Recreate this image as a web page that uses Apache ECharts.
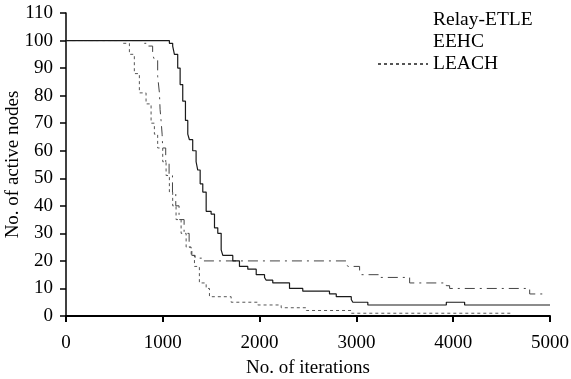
<!DOCTYPE html>
<html>
<head>
<meta charset="utf-8">
<script src="https://cdn.jsdelivr.net/npm/echarts@6/dist/echarts.min.js"></script>
<style>
  html, body { margin: 0; padding: 0; background: #fff; }
  #chart { width: 571px; height: 379px; }
</style>
</head>
<body>
<div id="chart"></div>
<script>
// Relay-ETLE (solid)
const relayIter = [0, 1068, 1102, 1120, 1154, 1179, 1206, 1234, 1258, 1275, 1309, 1344, 1361, 1386, 1413, 1448, 1499, 1534, 1568, 1603, 1620, 1723, 1792, 1878, 1965, 2051, 2068, 2136, 2309, 2446, 2722, 2792, 2947, 2963, 3118, 3929, 4118, 5000];
const relayNodes = [100, 99, 98, 95, 90, 84, 78, 71, 66, 64, 60, 56, 53, 48, 45, 38, 37, 32, 30, 24, 22, 20, 18, 17, 15, 14, 13, 12, 10, 9, 8, 7, 6, 5, 4, 5, 4, 4];

// EEHC (dash-dot)
const eehcIter = [0, 810, 844, 895, 913, 947, 965, 972, 982, 993, 999, 1030, 1065, 1100, 1134, 1168, 1220, 1272, 1300, 1334, 1420, 2895, 2912, 3033, 3050, 3240, 3550, 3929, 3963, 4790, 4945];
const eehcNodes = [100, 99, 98, 95, 93, 87, 81, 75, 71, 66, 61, 56, 51, 45, 40, 35, 30, 25, 22, 21, 20, 19, 18, 16, 15, 14, 12, 11, 10, 8, 8];

// LEACH (dotted)
const leachIter = [0, 585, 655, 706, 758, 827, 879, 913, 947, 999, 1034, 1068, 1102, 1137, 1189, 1241, 1293, 1327, 1378, 1448, 1482, 1706, 1981, 2223, 2482, 2947, 4601];
const leachNodes = [100, 99, 95, 88, 81, 77, 70, 66, 61, 56, 51, 45, 40, 35, 30, 25, 22, 18, 12, 10, 7, 5, 4, 3, 2, 1, 1];

const seriesNames = ['Relay-ETLE', 'EEHC', 'LEACH'];
const xTicks = [0, 5000, 1000];   // min, max, interval
const yTicks = [0, 110, 10];

const font = 'Liberation Serif';
const zip = (xs, ys) => xs.map((x, i) => [x, ys[i]]);

const chart = echarts.init(document.getElementById('chart'));
chart.setOption({
    animation: false,
    backgroundColor: '#fff',
    grid: { left: 66, right: 21, top: 13, bottom: 63, containLabel: false, outerBoundsMode: 'none' },
    legend: {
        orient: 'vertical',
        left: 372,
        top: 5,
        itemWidth: 50,
        itemHeight: 14,
        itemGap: 2,
        textStyle: { fontFamily: font, fontSize: 19.5, color: '#000' },
        data: [
            { name: seriesNames[0], lineStyle: { opacity: 0 }, itemStyle: { opacity: 0 } },
            { name: seriesNames[1], lineStyle: { opacity: 0 }, itemStyle: { opacity: 0 } },
            { name: seriesNames[2], itemStyle: { opacity: 0 } }
        ]
    },
    xAxis: {
        type: 'value',
        min: xTicks[0], max: xTicks[1], interval: xTicks[2],
        name: 'No. of iterations',
        nameLocation: 'middle',
        nameGap: 43,
        nameTextStyle: { fontFamily: font, fontSize: 19, color: '#000' },
        axisLine: { lineStyle: { color: '#000', width: 2 } },
        axisTick: { length: 6, lineStyle: { color: '#000', width: 2 } },
        axisLabel: { fontFamily: font, fontSize: 19, color: '#000', margin: 18, formatter: v => String(v) },
        splitLine: { show: false }
    },
    yAxis: {
        type: 'value',
        min: yTicks[0], max: yTicks[1], interval: yTicks[2],
        name: 'No. of active nodes',
        nameLocation: 'middle',
        nameGap: 43,
        nameMoveOverlap: false,
        nameTextStyle: { fontFamily: font, fontSize: 19, color: '#000' },
        axisLine: { show: true, lineStyle: { color: '#000', width: 1.5 } },
        axisTick: { show: true, length: 6, lineStyle: { color: '#000', width: 1.5 } },
        axisLabel: { fontFamily: font, fontSize: 19, color: '#000', margin: 13 },
        splitLine: { show: false }
    },
    series: [
        {
            name: seriesNames[2], type: 'line', step: 'end', symbol: 'none',
            lineStyle: { color: '#555', width: 1, type: [3, 3] },
            itemStyle: { color: '#555' },
            data: zip(leachIter, leachNodes)
        },
        {
            name: seriesNames[1], type: 'line', step: 'end', symbol: 'none',
            lineStyle: { color: '#444', width: 1, type: [10, 5, 2, 5] },
            itemStyle: { color: '#444' },
            data: zip(eehcIter, eehcNodes)
        },
        {
            name: seriesNames[0], type: 'line', step: 'end', symbol: 'none',
            lineStyle: { color: '#1a1a1a', width: 1.2 },
            itemStyle: { color: '#1a1a1a' },
            data: zip(relayIter, relayNodes)
        }
    ]
});
</script>
</body>
</html>
